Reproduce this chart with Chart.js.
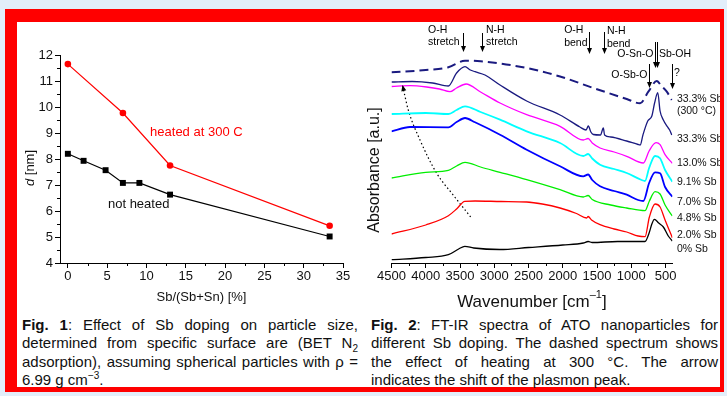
<!DOCTYPE html>
<html>
<head>
<meta charset="utf-8">
<script src="https://cdn.jsdelivr.net/npm/chart.js@4.4.0/dist/chart.umd.min.js"></script>
<style>
  body { margin: 0; width: 727px; height: 396px; background: #e2eefa; overflow: hidden; position: relative; }
  #frame { position: absolute; left: 5px; top: 9px; width: 719px; height: 383px; background: #ff0000; }
  #panel { position: absolute; left: 17px; top: 22px; width: 703px; height: 365px; background: #fff; }
  canvas { position: absolute; }
  #fig1 { left: 17px; top: 22px; }
  #fig2 { left: 362px; top: 22px; }
  .cap { position: absolute; top: 316px; font: 15px "Liberation Sans", Arial, sans-serif; line-height: 18.3px; color: #111; }
  .cap div { text-align: justify; text-align-last: justify; }
  .cap div.last { text-align-last: left; }
  #cap1 { left: 22px; width: 336px; }
  #cap2 { left: 371px; width: 347px; }
  sub, sup { font-size: 10px; line-height: 0; }
</style>
</head>
<body>
<div id="frame"></div>
<div id="panel"></div>
<canvas id="fig1" width="345" height="288"></canvas>
<canvas id="fig2" width="358" height="288"></canvas>
<div class="cap" id="cap1">
  <div><b>Fig. 1</b>: Effect of Sb doping on particle size,</div>
  <div>determined from specific surface are (BET N<sub>2</sub></div>
  <div>adsorption), assuming spherical particles with &rho; =</div>
  <div class="last">6.99 g cm<sup>&minus;3</sup>.</div>
</div>
<div class="cap" id="cap2">
  <div><b>Fig. 2</b>: FT-IR spectra of ATO nanoparticles for</div>
  <div>different Sb doping. The dashed spectrum shows</div>
  <div>the effect of heating at 300 &deg;C. The arrow</div>
  <div class="last">indicates the shift of the plasmon peak.</div>
</div>
<script>
// Fig. 1 - particle size vs Sb doping
const sbPct = [0, 2, 4.8, 7, 9.1, 13, 33.3];
const dNotHeated = [8.2, 7.93, 7.57, 7.08, 7.08, 6.63, 5.02];
const sbPctHeated = [0, 7, 13, 33.3];
const dHeated = [11.65, 9.77, 7.75, 5.43];
const fig1XTicks = [0, 5, 10, 15, 20, 25, 30, 35];
const fig1YTicks = [4, 5, 6, 7, 8, 9, 10, 11, 12];

// Fig. 2 - FT-IR spectra, [wavenumber, absorbance a.u.]
const sb0 = [[4500,3.3],[4000,5.5],[3670,8.3],[3520,14],[3430,16.7],[3300,15],[2920,13.5],[2500,15.5],[2000,18],[1700,20],[1630,21.5],[1570,20.5],[1200,21.5],[800,21.5],[740,30],[700,39],[663,43.7],[600,40],[532,36],[460,27],[401,22]];
const sb2 = [[4500,29],[4000,38],[3670,47.3],[3550,54],[3430,61.7],[3281,62],[2900,61.5],[2527,61],[2300,59],[2040,55],[1800,49.5],[1651,45],[1630,46.5],[1580,43],[1456,38.3],[1250,34],[1067,31],[900,27],[800,26.3],[736,46],[653,59],[580,56],[507,43],[401,25.3]];
const sb48 = [[4500,85],[4000,90.7],[3670,92.7],[3550,97],[3427,100.7],[3200,96],[2916,90.7],[2527,83.3],[2040,73.3],[1700,66],[1630,67.5],[1570,63.5],[1300,58],[1067,55],[800,52.3],[736,62],[653,71.3],[580,69],[507,58],[401,47]];
const sb7 = [[4500,131.7],[4230,136],[3670,135.7],[3550,141],[3427,145],[3281,140.7],[2916,128.3],[2527,113.3],[2040,96.7],[1700,86.7],[1630,88.5],[1570,83],[1456,76.7],[1250,72],[1067,68.3],[900,63],[824,62],[740,80],[653,90.7],[580,89.7],[507,76],[401,66.3]];
const sb91 = [[4500,149],[4000,150],[3670,149],[3550,153],[3427,156.7],[3200,151],[2916,143.3],[2527,131.7],[2040,120],[1700,107],[1630,109],[1570,104.5],[1456,98.3],[1250,94],[1067,90],[850,83],[800,82],[740,95],[653,107],[580,104.7],[507,93],[401,81.3]];
const sb13 = [[4500,176.5],[4230,177.3],[3987,176],[3800,174],[3646,171.3],[3550,175],[3412,179],[3200,171],[2916,160],[2527,148.3],[2040,136.7],[1700,123],[1630,124.5],[1570,120],[1456,115],[1250,111],[1067,106.7],[824,100],[740,112],[639,120.3],[580,118.3],[507,108.3],[401,99.7]];
const sb33 = [[4500,181],[4200,181.5],[3900,180],[3670,177],[3550,190],[3427,196.3],[3350,193],[3281,191.3],[3135,188],[2916,178],[2527,162],[2040,148],[1750,136],[1660,133],[1627,137],[1590,131],[1554,128.5],[1450,128],[1408,135],[1390,128],[1300,126],[1067,122],[900,118.5],[870,118],[830,128],[760,142],[700,147],[660,160],[614,170.3],[580,152],[532,143],[474,136.3],[440,133],[409,128]];
const sb33Heated = [[4500,190.7],[4000,193],[3670,195.7],[3427,202.3],[3200,201.7],[2527,195],[2040,186.5],[1554,175],[1067,164],[872,159.7],[751,171.3],[628,182],[560,177],[482,171.3],[409,163]];
const plasmonShift = [[4337,177],[4255,153],[4084,123],[3840,89.7],[3600,68],[3329,44.7]];
const wnTicks = [4500, 4000, 3500, 3000, 2500, 2000, 1500, 1000, 500];

const sampleNames = ['33.3% Sb', '(300 \u00B0C)', '33.3% Sb', '13.0% Sb', '9.1% Sb', '7.0% Sb', '4.8% Sb', '2.0% Sb', '0% Sb'];
const sampleLabelY = [164, 152, 124, 100, 81, 61, 45, 28, 14];

const bandName = [['O-H', 'stretch'], ['N-H', 'stretch'], ['O-H', 'bend'], ['N-H', 'bend'], ['O-Sn-O'], ['Sb-OH'], ['O-Sb-O'], ['?']];
const bandWn = [3460, 3175, 1621, 1393, 657, 628, 745, 410];
// arrow top/bottom and text rows in a.u.
const bandLayout = [
  { top: 230, bot: 211, side: 'left', gap: 4, ty: [233, 221] },
  { top: 230, bot: 211, side: 'right', gap: 3.5, ty: [233, 221] },
  { top: 231, bot: 209, side: 'left', gap: 2, ty: [233, 220] },
  { top: 231, bot: 209, side: 'right', gap: 2.5, ty: [232, 219] },
  { top: 221, bot: 195, side: 'left', gap: 2, ty: [209] },
  { top: 221, bot: 195, side: 'right', gap: 1.5, ty: [209] },
  { top: 199, bot: 175, side: 'left', gap: 2, ty: [188] },
  { top: 199, bot: 174, side: 'right', gap: 1.5, ty: [190] }
];

const FONT = '"Liberation Sans", Arial, sans-serif';
Chart.defaults.font.family = FONT;
Chart.defaults.color = '#111';

const toXY = arr => arr.map(p => ({ x: p[0], y: p[1] }));

function minorTicks(ctx, scale, values, horizontal, len) {
  ctx.beginPath();
  values.forEach(v => {
    const p = Math.round(scale.getPixelForValue(v)) + 0.5;
    if (horizontal) { ctx.moveTo(p, scale.top); ctx.lineTo(p, scale.top + len); }
    else { ctx.moveTo(scale.right, p); ctx.lineTo(scale.right - len, p); }
  });
  ctx.stroke();
}

const fig1Extras = {
  id: 'fig1Extras',
  afterDraw(chart) {
    const { ctx, chartArea: ca, scales: { x, y } } = chart;
    ctx.save();
    ctx.strokeStyle = '#000';
    ctx.lineWidth = 1;
    const xm = [], ym = [];
    for (let v = 2.5; v < 35; v += 5) xm.push(v);
    for (let v = 4.5; v < 12; v += 1) ym.push(v);
    minorTicks(ctx, x, xm, true, 3);
    minorTicks(ctx, y, ym, false, 3);

    ctx.textBaseline = 'middle';
    ctx.textAlign = 'left';
    ctx.font = '13px ' + FONT;
    ctx.fillStyle = '#ff0000';
    ctx.fillText('heated at 300 C', x.getPixelForValue(10.46), y.getPixelForValue(9.01));
    ctx.fillStyle = '#111';
    ctx.fillText('not heated', x.getPixelForValue(5.1), y.getPixelForValue(6.26));

    // x title
    ctx.textAlign = 'center';
    ctx.fillText('Sb/(Sb+Sn) [%]', (ca.left + ca.right) / 2, 275);

    // y title with italic d
    ctx.translate(13, 146);
    ctx.rotate(-Math.PI / 2);
    ctx.textAlign = 'left';
    ctx.font = 'italic 13px ' + FONT;
    const wd = ctx.measureText('d').width;
    ctx.font = '13px ' + FONT;
    const wr = ctx.measureText(' [nm]').width;
    const sx = -(wd + wr) / 2;
    ctx.font = 'italic 13px ' + FONT;
    ctx.fillText('d', sx, 0);
    ctx.font = '13px ' + FONT;
    ctx.fillText(' [nm]', sx + wd, 0);
    ctx.restore();
  }
};

const fig2Extras = {
  id: 'fig2Extras',
  afterDraw(chart) {
    const { ctx, chartArea: ca, scales: { x, y } } = chart;
    ctx.save();
    ctx.strokeStyle = '#000';
    ctx.fillStyle = '#000';
    ctx.lineWidth = 1;
    const wm = [];
    for (let v = 4250; v > 500; v -= 500) wm.push(v);
    minorTicks(ctx, x, wm, true, 3);

    // band assignment arrows
    ctx.font = '10.5px ' + FONT;
    ctx.textBaseline = 'middle';
    ctx.textAlign = 'left';
    bandName.forEach((lines, i) => {
      const L = bandLayout[i];
      const ax = Math.round(x.getPixelForValue(bandWn[i])) + 0.5;
      const y1 = y.getPixelForValue(L.top), y2 = y.getPixelForValue(L.bot);
      ctx.beginPath();
      ctx.moveTo(ax, y1);
      ctx.lineTo(ax, y2 - 5);
      ctx.stroke();
      ctx.beginPath();
      ctx.moveTo(ax - 2.5, y2 - 6);
      ctx.lineTo(ax + 2.5, y2 - 6);
      ctx.lineTo(ax, y2);
      ctx.closePath();
      ctx.fill();
      const w = Math.max(...lines.map(s => ctx.measureText(s).width));
      const tx = L.side === 'left' ? ax - L.gap - w : ax + L.gap;
      lines.forEach((s, k) => ctx.fillText(s, tx, y.getPixelForValue(L.ty[k])));
    });

    // sample labels
    ctx.font = '10.5px ' + FONT;
    ctx.fillStyle = '#111';
    sampleNames.forEach((s, i) => ctx.fillText(s, ca.right + 4.5, y.getPixelForValue(sampleLabelY[i])));

    // arrowhead on plasmon shift
    const meta = chart.getDatasetMeta(chart.data.datasets.length - 1);
    const p0 = meta.data[0], p1 = meta.data[1];
    const ang = Math.atan2(p0.y - p1.y, p0.x - p1.x);
    ctx.fillStyle = '#000';
    ctx.translate(p0.x, p0.y);
    ctx.rotate(ang);
    ctx.beginPath();
    ctx.moveTo(1, 0);
    ctx.lineTo(-5, -2.5);
    ctx.lineTo(-5, 2.5);
    ctx.closePath();
    ctx.fill();
    ctx.setTransform(1, 0, 0, 1, 0, 0);

    // axis titles
    ctx.fillStyle = '#111';
    ctx.font = '17px ' + FONT;
    ctx.textBaseline = 'middle';
    const t1 = 'Wavenumber [cm', t2 = '\u20131', t3 = ']';
    const w1 = ctx.measureText(t1).width, w3 = ctx.measureText(t3).width;
    ctx.font = '11px ' + FONT;
    const w2 = ctx.measureText(t2).width;
    let tx = (ca.left + ca.right) / 2 - (w1 + w2 + w3) / 2;
    ctx.font = '17px ' + FONT;
    ctx.fillText(t1, tx, 280);
    ctx.font = '11px ' + FONT;
    ctx.fillText(t2, tx + w1, 273);
    ctx.font = '17px ' + FONT;
    ctx.fillText(t3, tx + w1 + w2, 280);

    ctx.translate(13, 148);
    ctx.rotate(-Math.PI / 2);
    ctx.textAlign = 'center';
    ctx.font = '16px ' + FONT;
    ctx.fillText('Absorbance [a.u.]', 0, 0);
    ctx.restore();
  }
};

const axisGrid = { display: true, drawOnChartArea: false, drawTicks: true, tickLength: 5, tickColor: '#000', color: '#000' };

new Chart(document.getElementById('fig1'), {
  type: 'line',
  data: {
    datasets: [
      { data: toXY(sbPctHeated.map((v, i) => [v, dHeated[i]])), borderColor: '#ff0000', backgroundColor: '#ff0000',
        borderWidth: 1.2, pointStyle: 'circle', pointRadius: 3.3, pointBorderWidth: 0 },
      { data: toXY(sbPct.map((v, i) => [v, dNotHeated[i]])), borderColor: '#000', backgroundColor: '#000',
        borderWidth: 1.2, pointStyle: 'rect', pointRadius: 4.2, pointBorderWidth: 0 }
    ]
  },
  options: {
    responsive: false,
    animation: false,
    layout: { padding: { left: 0, right: 19, top: 33, bottom: 0 } },
    plugins: { legend: { display: false }, tooltip: { enabled: false } },
    scales: {
      x: {
        type: 'linear', min: -1, max: 35,
        afterBuildTicks: s => { s.ticks = fig1XTicks.map(v => ({ value: v })); },
        afterFit: s => { s.height = 47; },
        grid: axisGrid,
        border: { display: true, color: '#000', width: 1 },
        ticks: { padding: 1, font: { size: 13 }, color: '#111', maxRotation: 0, autoSkip: false, callback: v => String(v) }
      },
      y: {
        type: 'linear', min: 4, max: 12,
        afterBuildTicks: s => { s.ticks = fig1YTicks.map(v => ({ value: v })); },
        afterFit: s => { s.width = 43; },
        grid: axisGrid,
        border: { display: true, color: '#000', width: 1 },
        ticks: { padding: 2, font: { size: 13 }, color: '#111', autoSkip: false, callback: v => String(v) }
      }
    }
  },
  plugins: [fig1Extras]
});

const spectrum = (arr, color, extra) => Object.assign({
  data: toXY(arr), borderColor: color, borderWidth: 1.3, pointRadius: 0, cubicInterpolationMode: 'monotone', fill: false
}, extra || {});

new Chart(document.getElementById('fig2'), {
  type: 'line',
  data: {
    datasets: [
      spectrum(sb0, '#000000'),
      spectrum(sb2, '#ff0000'),
      spectrum(sb48, '#00ee00'),
      spectrum(sb7, '#0000ff', { borderWidth: 1.8 }),
      spectrum(sb91, '#00ffff', { borderWidth: 1.8 }),
      spectrum(sb13, '#ff00ff'),
      spectrum(sb33, '#1a1a80'),
      spectrum(sb33Heated, '#1a1a80', { borderWidth: 2, borderDash: [9, 5] }),
      spectrum(plasmonShift, '#000000', { borderWidth: 1.2, borderDash: [1.5, 2.5] })
    ]
  },
  options: {
    responsive: false,
    animation: false,
    layout: { padding: { left: 29.5, right: 47.6, top: 3, bottom: 0 } },
    plugins: { legend: { display: false }, tooltip: { enabled: false } },
    scales: {
      x: {
        type: 'linear', min: 400, max: 4500, reverse: true,
        afterBuildTicks: s => { s.ticks = wnTicks.map(v => ({ value: v })); },
        afterFit: s => { s.height = 47; },
        grid: axisGrid,
        border: { display: true, color: '#000', width: 1 },
        ticks: { padding: 1, font: { size: 13 }, color: '#111', maxRotation: 0, autoSkip: false, callback: v => String(v) }
      },
      y: { type: 'linear', display: false, min: 0, max: 238 }
    }
  },
  plugins: [fig2Extras]
});
</script>
</body>
</html>
